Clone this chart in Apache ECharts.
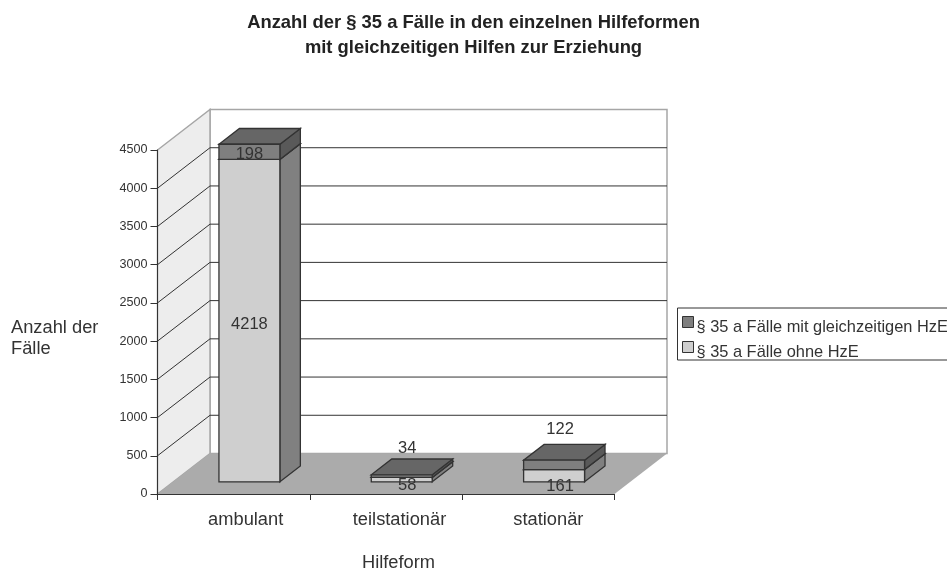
<!DOCTYPE html>
<html><head><meta charset="utf-8">
<style>html,body{margin:0;padding:0;background:#fff;overflow:hidden}#c{width:947px;height:568px}</style>
<script src="https://cdn.jsdelivr.net/npm/echarts@6/dist/echarts.min.js"></script>
</head><body><div id="c"></div>
<script>
const categories = ['ambulant', 'teilstationär', 'stationär'];
const ohneHzE = [4218, 58, 161];
const mitHzE = [198, 34, 122];
const nameOhne = '§ 35 a Fälle ohne HzE';
const nameMit = '§ 35 a Fälle mit gleichzeitigen HzE';
const yTicks = [0, 500, 1000, 1500, 2000, 2500, 3000, 3500, 4000, 4500];

const FONT = '"Liberation Sans", Arial, sans-serif';
const DX = 52.5, DY = -40.5;      // full depth of the chart box
const NEAR = 0.30, FAR = 0.69;    // bar depth as fraction of box depth
const EDGE = '#333333';
const catLabelPad = [24, 27, 20];

function poly(points, fill, stroke, lw) {
  return { type: 'polygon', shape: { points }, style: { fill, stroke: stroke || 'none', lineWidth: lw === undefined ? 1 : lw } };
}
function renderWalls(params, api) {
  const band = api.size([1, 0])[0];
  const a = api.coord([0, 0]), b = api.coord([2, 0]), t = api.coord([0, 4500]);
  const x0 = a[0] - band / 2, y0 = a[1], x1 = b[0] + band / 2, yt = t[1];
  const wall = '#a6a6a6';
  const children = [
    poly([[x0 + DX, y0 + DY], [x1 + DX, y0 + DY], [x1 + DX, yt + DY], [x0 + DX, yt + DY]], '#ffffff', wall, 1.5),
    poly([[x0, y0], [x0 + DX, y0 + DY], [x0 + DX, yt + DY], [x0, yt]], '#ededed', wall, 1.5),
    poly([[x0, y0], [x1, y0], [x1 + DX, y0 + DY], [x0 + DX, y0 + DY]], '#ababab', 'none')
  ];
  yTicks.slice(1, -1).forEach(v => {
    const y = api.coord([0, v])[1];
    children.push({ type: 'polyline', shape: { points: [[x0, y], [x0 + DX, y + DY], [x1 + DX, y + DY]] }, style: { fill: 'none', stroke: EDGE, lineWidth: 1 } });
  });
  return { type: 'group', children };
}
function makeBar(cols, labelShift) {
  return function (params, api) {
    const i = api.value(0), lo = api.value(1), hi = api.value(2);
    const band = api.size([1, 0])[0];
    const w = band * 0.4;
    const c = api.coord([i, lo]), d = api.coord([i, hi]);
    const nx = DX * NEAR, ny = DY * NEAR, fx = DX * (FAR - NEAR), fy = DY * (FAR - NEAR);
    const L = c[0] - w / 2 + nx, R = L + w, B = c[1] + ny, T = d[1] + ny;
    const s = labelShift[i];
    return { type: 'group', children: [
      poly([[R, B], [R + fx, B + fy], [R + fx, T + fy], [R, T]], cols.side, EDGE, 1.3),
      poly([[L, T], [R, T], [R + fx, T + fy], [L + fx, T + fy]], cols.top, EDGE, 1.3),
      poly([[L, B], [R, B], [R, T], [L, T]], cols.front, EDGE, 1.3),
      { type: 'text', x: (L + R) / 2 + s[0], y: (T + B) / 2 + s[1], style: { text: String(hi - lo), fill: '#333333', font: '16.5px ' + FONT, align: 'center', verticalAlign: 'middle' } }
    ] };
  };
}
const chart = echarts.init(document.getElementById('c'), null, { renderer: 'canvas' });
chart.setOption({
  animation: false,
  backgroundColor: '#ffffff',
  title: [
    { text: 'Anzahl der § 35 a Fälle in den einzelnen Hilfeformen\nmit gleichzeitigen Hilfen zur Erziehung', left: 468.5, top: 5, padding: 5, textAlign: 'center',
      textStyle: { fontFamily: FONT, fontSize: 18.4, fontWeight: 'bold', color: '#222', lineHeight: 25 } },
    { text: 'Anzahl der\nFälle', left: 11, top: 317, padding: 0, textStyle: { fontFamily: FONT, fontSize: 18.3, fontWeight: 'normal', color: '#333', lineHeight: 21 } },
    { text: 'Hilfeform', left: 398.5, top: 551.5, padding: 0, textAlign: 'center', textStyle: { fontFamily: FONT, fontSize: 18.3, fontWeight: 'normal', color: '#333', lineHeight: 22 } }
  ],
  legend: {
    left: 677.5, top: 308, orient: 'vertical', data: [nameMit, nameOhne], icon: 'rect',
    itemWidth: 11, itemHeight: 11, itemGap: 6, padding: [8, 8, 0, 4.5], borderColor: '#333', borderWidth: 1,
    itemStyle: { borderColor: '#333', borderWidth: 1 },
    formatter: n => '{t|' + n + '}',
    textStyle: { rich: { t: { fontFamily: FONT, fontSize: 16.4, color: '#333', padding: [10, 0, 0, -2] } } }
  },
  grid: { left: 157.5, top: 150, width: 457, height: 344, containLabel: false },
  xAxis: { type: 'category', boundaryGap: true, z: 5,
    data: categories.map((v, i) => ({ value: v, textStyle: { padding: [0, 0, 0, catLabelPad[i]] } })),
    axisLine: { lineStyle: { color: EDGE, width: 1 } }, axisTick: { show: true, length: 6, lineStyle: { color: EDGE } },
    axisLabel: { fontFamily: FONT, fontSize: 18.3, color: '#333', margin: 17, interval: 0 } },
  yAxis: { type: 'value', min: 0, max: 4500, interval: 500, z: 5,
    axisLine: { show: true, lineStyle: { color: EDGE, width: 1 } }, axisTick: { show: true, length: 7, lineStyle: { color: EDGE } },
    splitLine: { show: false },
    axisLabel: { fontFamily: FONT, fontSize: 12.6, color: '#333', margin: 10, formatter: v => String(v) } },
  series: [
    { type: 'custom', name: 'walls', silent: true, z: 1, renderItem: renderWalls, data: [[0, 0]], encode: { x: 0, y: 1 }, clip: false },
    { type: 'custom', name: nameOhne, z: 2, clip: false, itemStyle: { color: '#cfcfcf' }, encode: { x: 0, y: [1, 2] },
      renderItem: makeBar({ front: '#cfcfcf', side: '#808080', top: '#cfcfcf' }, [[0, 3.5], [5.5, 6], [6, 11]]),
      data: ohneHzE.map((v, i) => [i, 0, v]) },
    { type: 'custom', name: nameMit, z: 3, clip: false, itemStyle: { color: '#7f7f7f' }, encode: { x: 0, y: [1, 2] },
      renderItem: makeBar({ front: '#7f7f7f', side: '#595959', top: '#666666' }, [[0, 3], [5.5, -28], [6, -35]]),
      data: mitHzE.map((v, i) => [i, ohneHzE[i], ohneHzE[i] + v]) }
  ]
});
</script></body></html>
